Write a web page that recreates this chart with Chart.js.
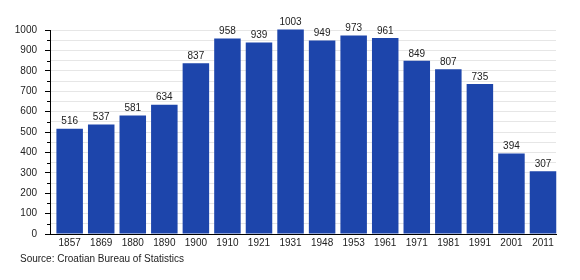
<!DOCTYPE html>
<html>
<head>
<meta charset="utf-8">
<script src="https://cdn.jsdelivr.net/npm/chart.js@4/dist/chart.umd.min.js"></script>
<style>
  html, body { margin: 0; padding: 0; background: #fff; }
  #wrap { width: 580px; height: 280px; }
</style>
</head>
<body>
<div id="wrap"><canvas id="chart" width="580" height="280"></canvas></div>
<script>
// census years and population
const years = ["1857", "1869", "1880", "1890", "1900", "1910", "1921", "1931",
  "1948", "1953", "1961", "1971", "1981", "1991", "2001", "2011"];
const population = [516, 537, 581, 634, 837, 958, 939, 1003, 949, 973, 961, 849, 807, 735, 394, 307];
const sourceText = "Source: Croatian Bureau of Statistics";

const FONT = "'Liberation Sans', Arial, sans-serif";
const TEXT = "#222";

// value above each bar
const barLabels = {
  id: "barLabels",
  afterDatasetsDraw(chart) {
    const ctx = chart.ctx;
    const meta = chart.getDatasetMeta(0);
    ctx.save();
    ctx.font = "10px " + FONT;
    ctx.fillStyle = TEXT;
    ctx.textAlign = "center";
    ctx.textBaseline = "bottom";
    meta.data.forEach((bar, i) => {
      ctx.fillText(String(population[i]), bar.x, bar.y - 2);
    });
    ctx.restore();
  },
};

// shorter tick marks at the 50s, and the source note under the axis
const extras = {
  id: "extras",
  afterDraw(chart) {
    const y = chart.scales.y;
    const ctx = chart.ctx;
    const left = chart.chartArea.left;
    ctx.save();
    ctx.strokeStyle = "#000";
    ctx.lineWidth = 1;
    y.ticks.forEach((t) => {
      if (t.value % 100 === 0) return;
      const py = Math.round(y.getPixelForValue(t.value)) + 0.5;
      ctx.beginPath();
      ctx.moveTo(left - 3, py);
      ctx.lineTo(left, py);
      ctx.stroke();
    });
    ctx.font = "10px " + FONT;
    ctx.fillStyle = TEXT;
    ctx.textAlign = "left";
    ctx.textBaseline = "middle";
    ctx.fillText(sourceText, 20, chart.chartArea.bottom + 25);
    ctx.restore();
  },
};

new Chart(document.getElementById("chart"), {
  type: "bar",
  data: {
    datasets: [
      {
        data: population.map((v, i) => ({ x: i, y: v })),
        backgroundColor: "#1d45ab",
        borderWidth: 0,
        barPercentage: 0.84,
        categoryPercentage: 1,
        clip: false,
      },
    ],
  },
  options: {
    responsive: false,
    animation: false,
    layout: { padding: { left: 0, right: 24, top: 30, bottom: 27 } },
    plugins: {
      legend: { display: false },
      tooltip: { enabled: false },
    },
    scales: {
      x: {
        type: "linear",
        offset: false,
        min: -0.623,
        max: 15.412,
        grid: { display: false, drawTicks: false },
        border: { display: true, color: "#000", width: 1 },
        afterBuildTicks(scale) {
          scale.ticks = years.map((_, i) => ({ value: i }));
        },
        afterFit(scale) {
          scale.height = 19;
        },
        ticks: {
          autoSkip: false,
          maxRotation: 0,
          padding: 3,
          color: TEXT,
          font: { family: FONT, size: 10 },
          callback: (v) => years[v],
        },
      },
      y: {
        min: 0,
        max: 1000,
        afterFit(scale) {
          scale.width = 50;
        },
        grid: {
          color: "#e6e6e6",
          lineWidth: 1,
          tickLength: 5,
          tickColor: (c) => (c.tick && c.tick.value % 100 === 0 ? "#000" : "rgba(0,0,0,0)"),
        },
        border: { display: true, color: "#000", width: 1 },
        ticks: {
          stepSize: 50,
          autoSkip: false,
          padding: 8,
          color: TEXT,
          font: { family: FONT, size: 10 },
          callback: (v) => (v % 100 === 0 ? String(v) : ""),
        },
      },
    },
  },
  plugins: [barLabels, extras],
});
</script>
</body>
</html>
